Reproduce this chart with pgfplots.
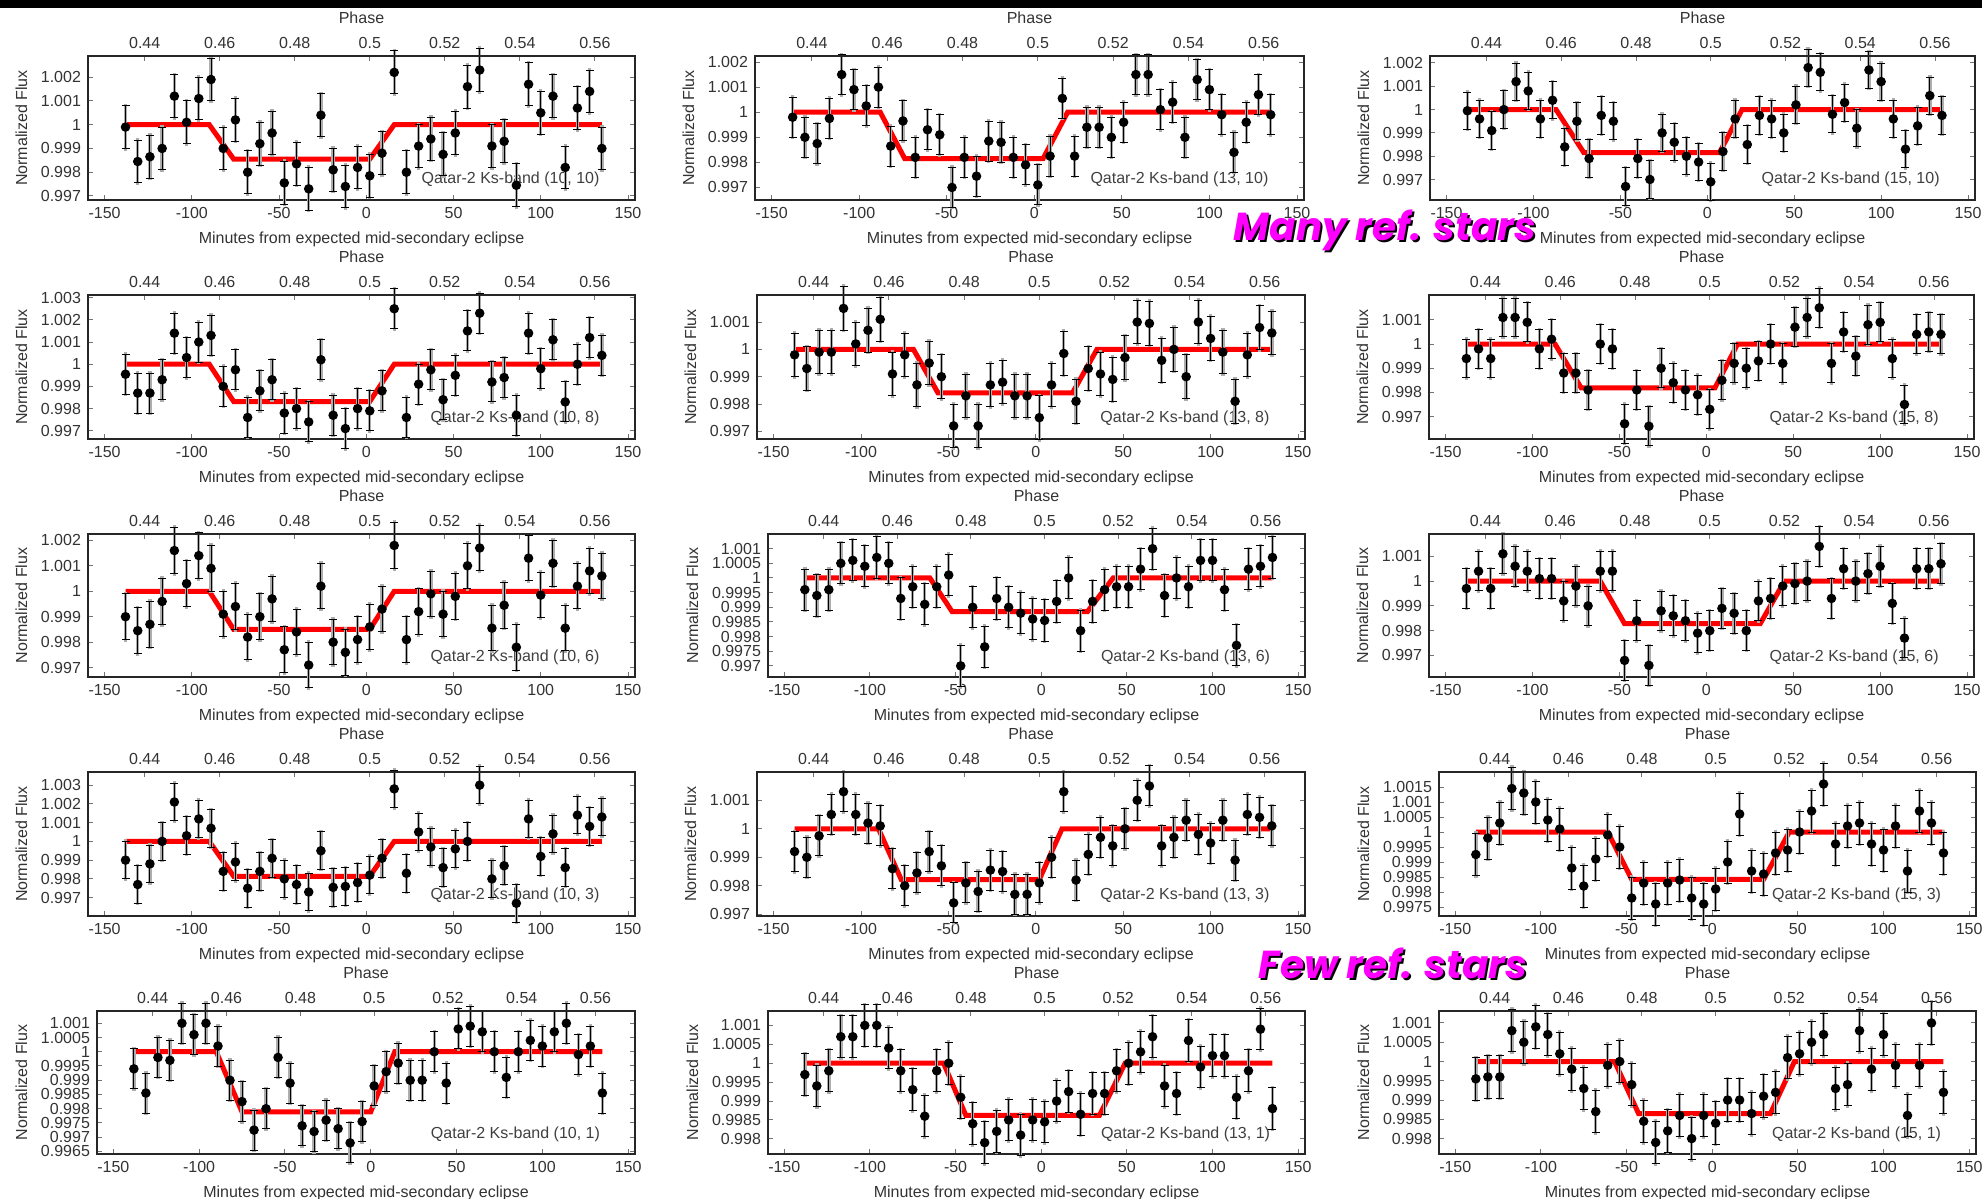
\documentclass[border=0pt]{standalone}
\usepackage{fontspec}
\setmainfont{Liberation Sans}
\newfontfamily\popb{Poppins}
\usepackage{pgfplots}
\usepackage{pgfplotstable}
\pgfplotsset{compat=1.18}
\definecolor{mag}{RGB}{255,0,255}
\definecolor{errgray}{gray}{0.68}

% data point with its error bar: grey wide bar, black thin capped bar, black dot
\pgfdeclareplotmark{ebar}{%
  \pgfsetlinewidth{1.7pt}\pgfsetstrokecolor{errgray}%
  \pgfpathmoveto{\pgfpoint{0pt}{-1.1\pgfplotmarksize}}%
  \pgfpathlineto{\pgfpoint{0pt}{1.1\pgfplotmarksize}}%
  \pgfusepathqstroke
  \pgfsetlinewidth{0.5pt}\pgfsetstrokecolor{black}%
  \pgfpathmoveto{\pgfpoint{0pt}{-\pgfplotmarksize}}%
  \pgfpathlineto{\pgfpoint{0pt}{\pgfplotmarksize}}%
  \pgfpathmoveto{\pgfpoint{-2pt}{-\pgfplotmarksize}}%
  \pgfpathlineto{\pgfpoint{2pt}{-\pgfplotmarksize}}%
  \pgfpathmoveto{\pgfpoint{-2pt}{\pgfplotmarksize}}%
  \pgfpathlineto{\pgfpoint{2pt}{\pgfplotmarksize}}%
  \pgfusepathqstroke
  \pgfsetfillcolor{black}%
  \pgfpathcircle{\pgfpointorigin}{2.4pt}%
  \pgfusepathqfill}

\pgfplotstableread{
x p11 p12 p13 p21 p22 p23 p31 p32 p33 p41 p42 p43 p51 p52 p53
-138 0.9999 0.9998 0.99995 0.99955 0.9998 0.9994 0.9990 0.9996 0.9997 0.9990 0.9992 0.99925 0.9994 0.9997 0.99955
-131 0.99845 0.9990 0.9996 0.9987 0.9993 0.9998 0.99845 0.9994 1.0004 0.9977 0.9990 0.9998 0.99855 0.9994 0.9996
-124 0.99865 0.99875 0.9991 0.9987 0.9999 0.9994 0.9987 0.9996 0.9997 0.9988 0.99975 1.0003 0.9998 0.9998 0.9996
-117 0.9990 0.99975 1.0000 0.9993 0.9999 1.0011 0.9996 1.0005 1.0011 1.0000 1.0005 1.00145 0.9997 1.0007 1.0008
-110 1.0012 1.0015 1.0012 1.0014 1.0015 1.0011 1.0016 1.0006 1.0006 1.0021 1.0013 1.0013 1.0010 1.0007 1.0005
-103 1.0001 1.0009 1.0008 1.0003 1.0002 1.0009 1.0003 1.0004 1.0004 1.0003 1.0005 1.0010 1.0006 1.0010 1.0009
-96 1.0011 1.00025 0.9996 1.0010 1.0007 0.9998 1.0014 1.0007 1.0001 1.0012 1.0002 1.0004 1.0010 1.0010 1.0007
-89 1.0019 1.0010 1.0004 1.0013 1.0011 1.0002 1.0009 1.0005 1.0001 1.0007 1.0001 1.0001 1.0002 1.0004 1.0002
-82 0.9990 0.99865 0.9984 0.9990 0.9991 0.9988 0.9991 0.9993 0.9992 0.9984 0.9986 0.9988 0.9990 0.9998 0.9998
-75 1.0002 0.99965 0.9995 0.99975 0.9998 0.9988 0.9994 0.9997 0.9998 0.9989 0.9980 0.9982 0.99825 0.9993 0.9993
-68 0.9980 0.9982 0.9979 0.9976 0.9987 0.9981 0.9982 0.9991 0.9990 0.9975 0.99845 0.9991 0.99725 0.9986 0.9987
-61 0.9992 0.9993 0.99975 0.9988 0.9995 1.0000 0.9990 0.9997 1.0004 0.9984 0.9992 0.9999 0.9980 0.9998 0.9999
-54 0.99965 0.9991 0.9995 0.9993 0.9990 0.9998 0.9997 1.0001 1.0004 0.9991 0.9987 0.9995 0.9998 1.0000 1.0000
-47 0.99755 0.9970 0.9967 0.9978 0.9972 0.9967 0.9977 0.9970 0.9968 0.9980 0.9974 0.9978 0.9989 0.9991 0.9994
-40 0.99835 0.9982 0.9979 0.9980 0.9983 0.9981 0.9984 0.9990 0.9984 0.9977 0.9981 0.9983 0.9974 0.9984 0.99845
-33 0.9973 0.99745 0.9970 0.9974 0.9972 0.9966 0.9971 0.99765 0.9966 0.9973 0.9978 0.9976 0.9972 0.9979 0.9979
-26 1.0004 0.99885 0.9990 1.0002 0.9987 0.9990 1.0002 0.9993 0.9988 0.9995 0.99855 0.9983 0.9976 0.9982 0.9982
-19 0.9981 0.9988 0.9986 0.9977 0.9988 0.9984 0.9980 0.9990 0.9986 0.99755 0.9985 0.9984 0.9973 0.9985 0.9986
-12 0.9974 0.9982 0.9980 0.9971 0.9983 0.9981 0.9976 0.9988 0.9984 0.9976 0.9977 0.9978 0.9968 0.9981 0.9980
-5 0.9982 0.9979 0.99775 0.9980 0.9983 0.9979 0.9981 0.9986 0.9979 0.9978 0.9977 0.9976 0.99755 0.9985 0.9986
2 0.99785 0.9971 0.9969 0.9979 0.9975 0.9973 0.9986 0.99855 0.9980 0.9982 0.9981 0.9981 0.9988 0.99845 0.9984
9 0.9988 0.99825 0.9982 0.9988 0.9987 0.9985 0.9993 0.9992 0.9989 0.9991 0.9990 0.9990 0.9993 0.9990 0.9990
16 1.0022 1.00055 0.9996 1.0025 0.99985 0.9992 1.0018 1.0000 0.9987 1.0028 1.0013 1.0006 0.9996 0.99925 0.9990
23 0.9980 0.99825 0.9985 0.9976 0.9981 0.9990 0.9981 0.9982 0.9980 0.9983 0.9982 0.9987 0.9990 0.99865 0.99865
30 0.9991 0.9994 0.99975 0.9991 0.9993 0.9993 0.9992 0.9992 0.9992 1.0005 0.9991 0.9986 0.9990 0.9992 0.9991
37 0.9994 0.9994 0.9996 0.99975 0.9991 1.0000 0.9999 0.9996 0.9993 0.9997 0.9997 0.9993 1.0000 0.9992 0.9992
44 0.99875 0.9990 0.9990 0.9984 0.9989 0.9992 0.9991 0.9997 0.9998 0.9986 0.9994 0.9994 0.9989 0.9998 1.0001
51 0.99965 0.9996 1.0002 0.9995 0.9997 1.0007 0.9998 0.9997 0.9999 0.9996 1.0000 1.0000 1.0008 1.0000 1.0002
58 1.0016 1.0015 1.0018 1.0015 1.0010 1.0011 1.0010 1.0003 1.0000 1.0000 1.0010 1.0007 1.0009 1.0003 1.0005
65 1.0023 1.0015 1.0016 1.0023 1.00095 1.0015 1.0017 1.0010 1.0014 1.0030 1.0015 1.0016 1.0007 1.0007 1.0007
72 0.9991 1.0001 0.9998 0.9992 0.9996 0.9992 0.99855 0.9994 0.9993 0.9980 0.9994 0.9996 1.0000 0.9994 0.9993
79 0.9993 1.0004 1.0003 0.9994 1.0000 1.0005 0.99945 1.0000 1.0005 0.9987 0.9997 1.0002 0.9991 0.9992 0.9994
86 0.99745 0.9990 0.9992 0.9977 0.9990 0.9995 0.9978 0.9997 1.0000 0.9967 1.0003 1.0003 1.0000 1.0006 1.0008
93 1.0017 1.0013 1.0017 1.0014 1.0010 1.0008 1.0013 1.0006 1.0003 1.0012 0.9998 0.9996 1.0004 0.9999 0.9998
100 1.0005 1.0009 1.0012 0.9998 1.0004 1.0009 0.99985 1.0006 1.0006 0.9992 0.9995 0.9994 1.0002 1.0002 1.0007
107 1.0012 0.9999 0.9996 1.0011 0.9999 0.9994 1.0011 0.9996 0.9991 1.0004 1.0003 1.0002 1.0007 1.0002 0.9999
114 0.9982 0.9984 0.9983 0.9983 0.9981 0.9975 0.99855 0.9977 0.9977 0.9986 0.9989 0.9987 1.0010 0.9991 0.9986
121 1.0007 0.9996 0.9993 1.0000 0.9998 1.0004 1.0002 1.0003 1.0005 1.0014 1.0005 1.0007 0.9999 0.9998 0.9999
128 1.0014 1.0007 1.0006 1.0012 1.0008 1.0005 1.0008 1.0004 1.0005 1.0008 1.0004 1.0003 1.0002 1.0009 1.0010
135 0.9990 0.9999 0.99975 1.0004 1.0006 1.0004 1.0006 1.0007 1.0007 1.0013 1.0001 0.9993 0.99855 0.9988 0.9992
}\data

\pgfplotsset{
  pos/.style n args={4}{at={(#1*0.5pt,-#2*0.5pt)}, anchor=north west,
    width=#3*0.5pt-#1*0.5pt, height=#4*0.5pt-#2*0.5pt},
  common/.style={scale only axis, xmin=-159.5, xmax=154,
    tick align=inside, major tick length=2.5pt,
    tick style={black!55, line width=0.5pt},
    axis line style={black!85, line width=0.8pt},
    ticklabel style={font=\fontsize{8}{9}\selectfont, text=black!80},
    label style={font=\fontsize{8}{9}\selectfont, text=black!80},
    /pgf/number format/assume math mode=true},
  base/.style={common, xtick={-150,-100,...,150}, xtick pos=bottom, ytick pos=both,
    yticklabel pos=left,
    xlabel={Minutes from expected mid-secondary eclipse}, ylabel={Normalized Flux},
    scaled y ticks=false,
    yticklabel style={/pgf/number format/.cd, fixed, precision=4}},
  topax/.style={common, axis x line*=top, axis y line=none,
    xtick={-127,-84,-41,2,45,88,131},
    xticklabels={0.44,0.46,0.48,0.5,0.52,0.54,0.56}, xlabel={Phase}},
}

% #1 geometry and y range, #2 data column, #3 error bar half-length (pt), #4 model, #5 label
\newcommand\panel[5]{%
\begin{axis}[base,#1]
  \addplot[red, line width=2.5pt] coordinates {#4};
  \addplot[black, only marks, mark=ebar, mark size=#3] table[x=x, y=#2]{\data};
  \node[anchor=east, font=\fontsize{8}{9}\selectfont, text=black!75] at (rel axis cs:0.948,0.14) {Qatar-2 Ks-band #5};
\end{axis}
\begin{axis}[topax,#1]
\end{axis}}

\begin{document}
\begin{tikzpicture}
\path[use as bounding box] (0,0) rectangle (991pt,-599.5pt);
\fill[white] (0,0) rectangle (991pt,-599.5pt);
\fill[black] (0,0) rectangle (991pt,-4pt);

% row 1
\panel{pos={88}{56}{635}{200}, ymin=0.99683, ymax=1.00289, ytick={0.997,0.998,0.999,1,1.001,1.002}}{p11}{10.7pt}
 {(-138,1)(-90,1)(-76,0.99855)(2,0.99855)(16,1)(135,1)}{(10, 10)}
\panel{pos={755}{56}{1304}{200}, ymin=0.9965, ymax=1.00224, ytick={0.997,0.998,0.999,1,1.001,1.002}}{p12}{10pt}
 {(-138,1)(-88,1)(-74,0.99815)(5,0.99815)(19,1)(135,1)}{(13, 10)}
\panel{pos={1430}{56}{1975}{200}, ymin=0.99612, ymax=1.0023, ytick={0.997,0.998,0.999,1,1.001,1.002}}{p13}{9.3pt}
 {(-138,1)(-87,1)(-71,0.99815)(7,0.99815)(20,1)(135,1)}{(15, 10)}
% row 2
\panel{pos={88}{295}{635}{439}, ymin=0.99663, ymax=1.00312, ytick={0.997,0.998,0.999,1,1.001,1.002,1.003}}{p21}{10pt}
 {(-138,1)(-90,1)(-76,0.99832)(2,0.99832)(16,1)(135,1)}{(10, 8)}
\panel{pos={757}{295}{1305}{439}, ymin=0.99672, ymax=1.00199, ytick={0.997,0.998,0.999,1,1.001}}{p22}{10.9pt}
 {(-138,1)(-70,1)(-56,0.99841)(21,0.99841)(35,1)(135,1)}{(13, 8)}
\panel{pos={1429}{295}{1974}{439}, ymin=0.99607, ymax=1.00203, ytick={0.997,0.998,0.999,1,1.001}}{p23}{9.7pt}
 {(-138,1)(-87,1)(-72,0.99819)(5,0.99819)(18,1)(135,1)}{(15, 8)}
% row 3
\panel{pos={88}{534}{635}{677}, ymin=0.99663, ymax=1.00225, ytick={0.997,0.998,0.999,1,1.001,1.002}}{p31}{11.4pt}
 {(-138,1)(-90,1)(-76,0.9985)(2,0.9985)(16,1)(135,1)}{(10, 6)}
\panel{pos={768}{534}{1305}{677}, ymin=0.99662, ymax=1.0015, ytick={0.997,0.9975,0.998,0.9985,0.999,0.9995,1,1.0005,1.001}}{p32}{10.3pt}
 {(-138,1)(-65,1)(-52,0.99885)(27,0.99885)(42,1)(135,1)}{(13, 6)}
\panel{pos={1429}{534}{1974}{677}, ymin=0.99613, ymax=1.0019, ytick={0.997,0.998,0.999,1,1.001}}{p33}{9.9pt}
 {(-138,1)(-61,1)(-47,0.99828)(31,0.99828)(45,1)(135,1)}{(15, 6)}
% row 4
\panel{pos={88}{772}{635}{916}, ymin=0.99602, ymax=1.0037, ytick={0.997,0.998,0.999,1,1.001,1.002,1.003}}{p41}{9.4pt}
 {(-138,1)(-90,1)(-76,0.99814)(2,0.99814)(16,1)(135,1)}{(10, 3)}
\panel{pos={757}{772}{1305}{916}, ymin=0.99694, ymax=1.00199, ytick={0.997,0.998,0.999,1,1.001}}{p42}{10pt}
 {(-138,1)(-90,1)(-77,0.99822)(2,0.99822)(15,1)(135,1)}{(13, 3)}
\panel{pos={1439}{772}{1976}{916}, ymin=0.9972, ymax=1.002, ytick={0.9975,0.998,0.9985,0.999,0.9995,1,1.0005,1.001,1.0015}}{p43}{10.5pt}
 {(-138,1)(-61,1)(-47,0.99842)(30,0.99842)(45,1)(135,1)}{(15, 3)}
% row 5
\panel{pos={97}{1011}{635}{1154}, ymin=0.99641, ymax=1.00143, ytick={0.9965,0.997,0.9975,0.998,0.9985,0.999,0.9995,1,1.0005,1.001}}{p51}{10pt}
 {(-138,1)(-90,1)(-75,0.99789)(0,0.99789)(14,1)(135,1)}{(10, 1)}
\panel{pos={768}{1011}{1305}{1154}, ymin=0.9976, ymax=1.00138, ytick={0.998,0.9985,0.999,0.9995,1,1.0005,1.001}}{p52}{10.4pt}
 {(-138,1)(-57,1)(-44,0.99862)(34,0.99862)(49,1)(135,1)}{(13, 1)}
\panel{pos={1439}{1011}{1976}{1154}, ymin=0.9976, ymax=1.00131, ytick={0.998,0.9985,0.999,0.9995,1,1.0005,1.001}}{p53}{10.6pt}
 {(-138,1)(-57,1)(-43,0.99865)(34,0.99865)(48,1)(135,1)}{(15, 1)}

% overlay annotations
\tikzset{banner/.style={anchor=base, inner sep=0pt, font=\popb\bfseries\itshape\fontsize{19.5}{22}\selectfont}}
\node[banner, text=black] at (692.5pt+1.1pt,-120pt-1.1pt) {Many ref. stars};
\node[banner, text=mag] at (692.5pt,-120pt) {Many ref. stars};
\node[banner, text=black] at (696.5pt+1.1pt,-489pt-1.1pt) {Few ref. stars};
\node[banner, text=mag] at (696.5pt,-489pt) {Few ref. stars};
\end{tikzpicture}
\end{document}
